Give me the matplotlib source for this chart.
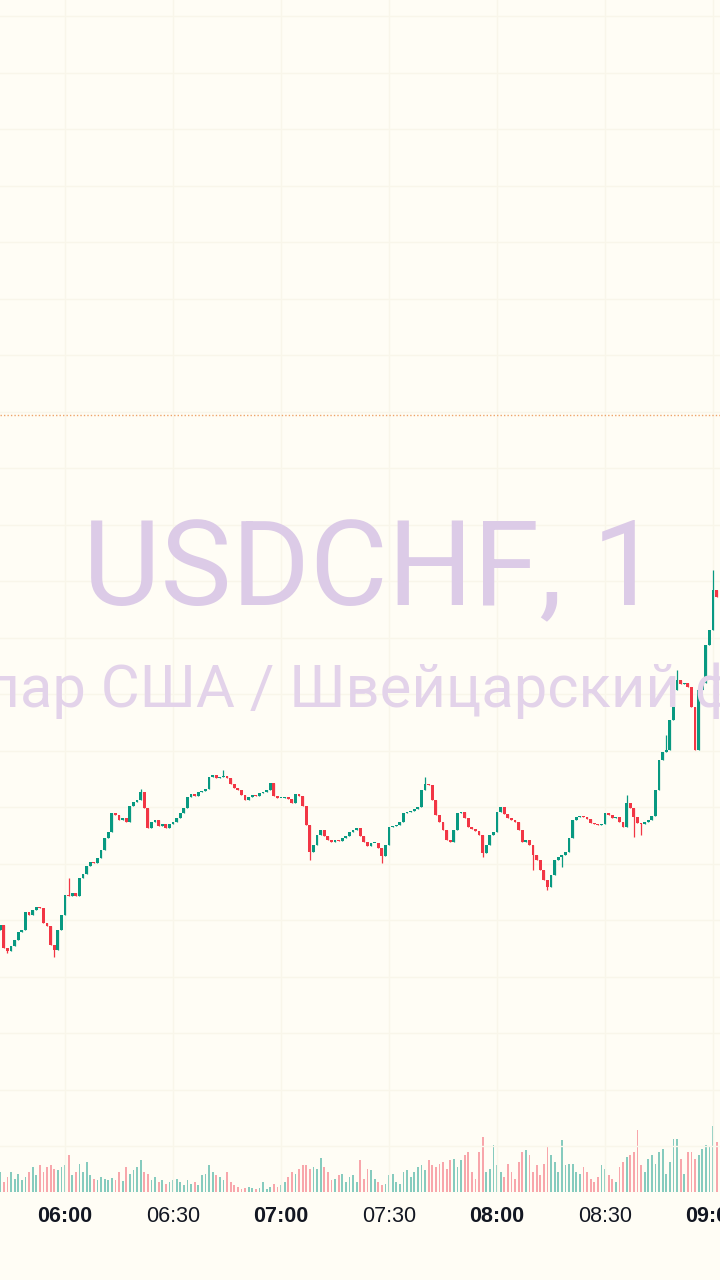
import numpy as np
import matplotlib.pyplot as plt
from matplotlib.ticker import MultipleLocator


# Session start of the first visible 1-minute candle
start_time = "05:42"

# Closing prices in points above 0.88000
close_pts = [
    75, 52, 49, 54, 60, 68, 70, 88, 85, 90,
    93, 92, 77, 74, 55, 50, 70, 85, 105, 104,
    107, 104, 122, 126, 134, 138, 137, 142, 150, 162,
    168, 187, 185, 180, 182, 178, 194, 198, 200, 208,
    192, 172, 178, 180, 174, 176, 172, 176, 178, 182,
    187, 192, 203, 206, 204, 208, 209, 211, 223, 225,
    222, 223, 224, 222, 216, 212, 210, 205, 200, 203,
    205, 204, 207, 208, 210, 217, 204, 202, 202, 203,
    201, 197, 206, 204, 194, 175, 148, 155, 165, 170,
    164, 160, 158, 160, 159, 162, 164, 168, 170, 172,
    164, 158, 154, 157, 157, 152, 144, 155, 173, 174,
    175, 178, 187, 188, 189, 191, 193, 210, 216, 215,
    200, 185, 178, 170, 160, 158, 170, 187, 188, 182,
    173, 171, 169, 165, 147, 155, 165, 168, 188, 193,
    186, 182, 180, 178, 170, 158, 160, 155, 145, 140,
    130, 120, 113, 125, 140, 143, 145, 148, 162, 180,
    183, 184, 183, 181, 177, 176, 175, 176, 187, 185,
    182, 183, 178, 173, 197, 192, 183, 177, 176, 178,
    180, 184, 210, 240, 248, 250, 280, 310, 320, 316,
    317, 313, 293, 250, 310, 317, 355, 370, 410, 403,
]
first_open = 70

# Wicks that stick out of the bodies: candle index -> extreme
wick_high = {19: 122, 39: 211, 62: 230, 118: 223, 174: 205, 185: 265, 188: 330, 198: 430}
wick_low = {2: 47, 15: 43, 86: 140, 106: 137, 134: 143, 148: 130, 152: 110, 156: 133,
            176: 163, 178: 165}

# Tick volume per candle
volume = [
    20, 10, 15, 20, 13, 18, 12, 15, 20, 25,
    17, 27, 20, 25, 27, 23, 22, 25, 27, 37,
    17, 20, 28, 20, 30, 17, 13, 12, 15, 13,
    12, 14, 12, 20, 11, 25, 18, 22, 25, 32,
    20, 18, 12, 15, 10, 12, 8, 10, 12, 13,
    10, 7, 12, 8, 10, 7, 17, 18, 27, 20,
    17, 15, 12, 20, 10, 7, 5, 3, 4, 5,
    4, 3, 4, 10, 3, 5, 8, 5, 7, 10,
    15, 20, 18, 23, 27, 27, 23, 25, 23, 34,
    25, 20, 12, 13, 17, 18, 10, 15, 17, 10,
    32, 13, 23, 22, 13, 10, 7, 8, 17, 18,
    10, 8, 20, 22, 15, 20, 25, 27, 22, 32,
    27, 25, 28, 30, 23, 32, 33, 25, 32, 37,
    40, 20, 13, 40, 55, 20, 23, 47, 27, 20,
    15, 28, 20, 13, 30, 40, 42, 37, 20, 27,
    17, 28, 45, 37, 30, 20, 52, 27, 28, 28,
    20, 18, 25, 20, 13, 10, 15, 27, 23, 17,
    13, 10, 25, 30, 35, 37, 40, 62, 27, 20,
    33, 37, 28, 40, 43, 18, 30, 53, 53, 33,
    18, 40, 40, 33, 37, 43, 47, 45, 66, 50,
]

ref_level = 585  # dotted price line
tick_labels = ["06:00", "06:30", "07:00", "07:30", "08:00", "08:30", "09:00"]

symbol = "USDCHF, 1"
description = "Доллар США / Швейцарский франк"

# Colours
BG = "#fffdf5"
GRID = "#f9f6ea"
UP = "#089981"
DOWN = "#f23645"
UP_VOL = "#86cbbe"
DOWN_VOL = "#f8a6ab"
WATERMARK = "#dccbe7"


def to_minutes(hhmm):
    h, m = hhmm.split(":")
    return int(h) * 60 + int(m)


closes = np.array(close_pts, dtype=float)
opens = np.concatenate([[first_open], closes[:-1]])
highs = np.maximum(opens, closes)
lows = np.minimum(opens, closes)
for k, v in wick_high.items():
    highs[k] = v
for k, v in wick_low.items():
    lows[k] = v
idx = np.arange(len(closes))
up = closes >= opens

fig = plt.figure(figsize=(7.2, 12.8), dpi=100, facecolor=BG)
ax = fig.add_axes([0, 88 / 1280, 1, 1192 / 1280])

# Watermark
fig.text(371 / 720, 1 - 605 / 1280, symbol, ha="center", va="baseline",
         fontsize=86, color=WATERMARK, family=["Roboto", "DejaVu Sans"], zorder=0)
fig.text(371 / 720, 1 - 707 / 1280, description, ha="center", va="baseline",
         fontsize=43, color="#e3d3ea", family=["Roboto", "DejaVu Sans"], zorder=0)

# Volume on its own scale at the bottom of the pane
vax = ax.twinx()
vax.set_ylim(0, 1192)
vax.bar(idx, volume, width=0.5, color=np.where(up, UP_VOL, DOWN_VOL), zorder=1)
vax.axis("off")

# Candles
colors = np.where(up, UP, DOWN)
ax.vlines(idx, lows, highs, colors=colors, lw=0.9, zorder=3)
ax.bar(idx, np.maximum(np.abs(closes - opens), 1.2), bottom=np.minimum(opens, closes),
       width=0.8, color=colors, zorder=4)

ax.axhline(ref_level, color="#eea46a", lw=1.0, ls=(0, (1, 1.5)), zorder=2)

ax.set_xlim(-0.056, 199.944)
ax.set_ylim(-192, 1000)

start = to_minutes(start_time)
ax.set_xticks([to_minutes(t) - start for t in tick_labels], tick_labels)
for lab in ax.get_xticklabels():
    lab.set_fontfamily("Liberation Sans")
    lab.set_fontsize(15.5)
    lab.set_color("#131722")
    if lab.get_text().endswith(":00"):
        lab.set_fontweight("bold")
ax.yaxis.set_major_locator(MultipleLocator(56.5, offset=23.5))
ax.tick_params(axis="both", length=0, pad=10)
ax.tick_params(axis="y", labelleft=False)
ax.grid(True, color=GRID, lw=1)
ax.set_axisbelow(True)
for s in ax.spines.values():
    s.set_visible(False)
vax.set_zorder(ax.get_zorder() - 1)
ax.patch.set_visible(False)

fig.savefig("out.png", dpi=100, facecolor=BG)
